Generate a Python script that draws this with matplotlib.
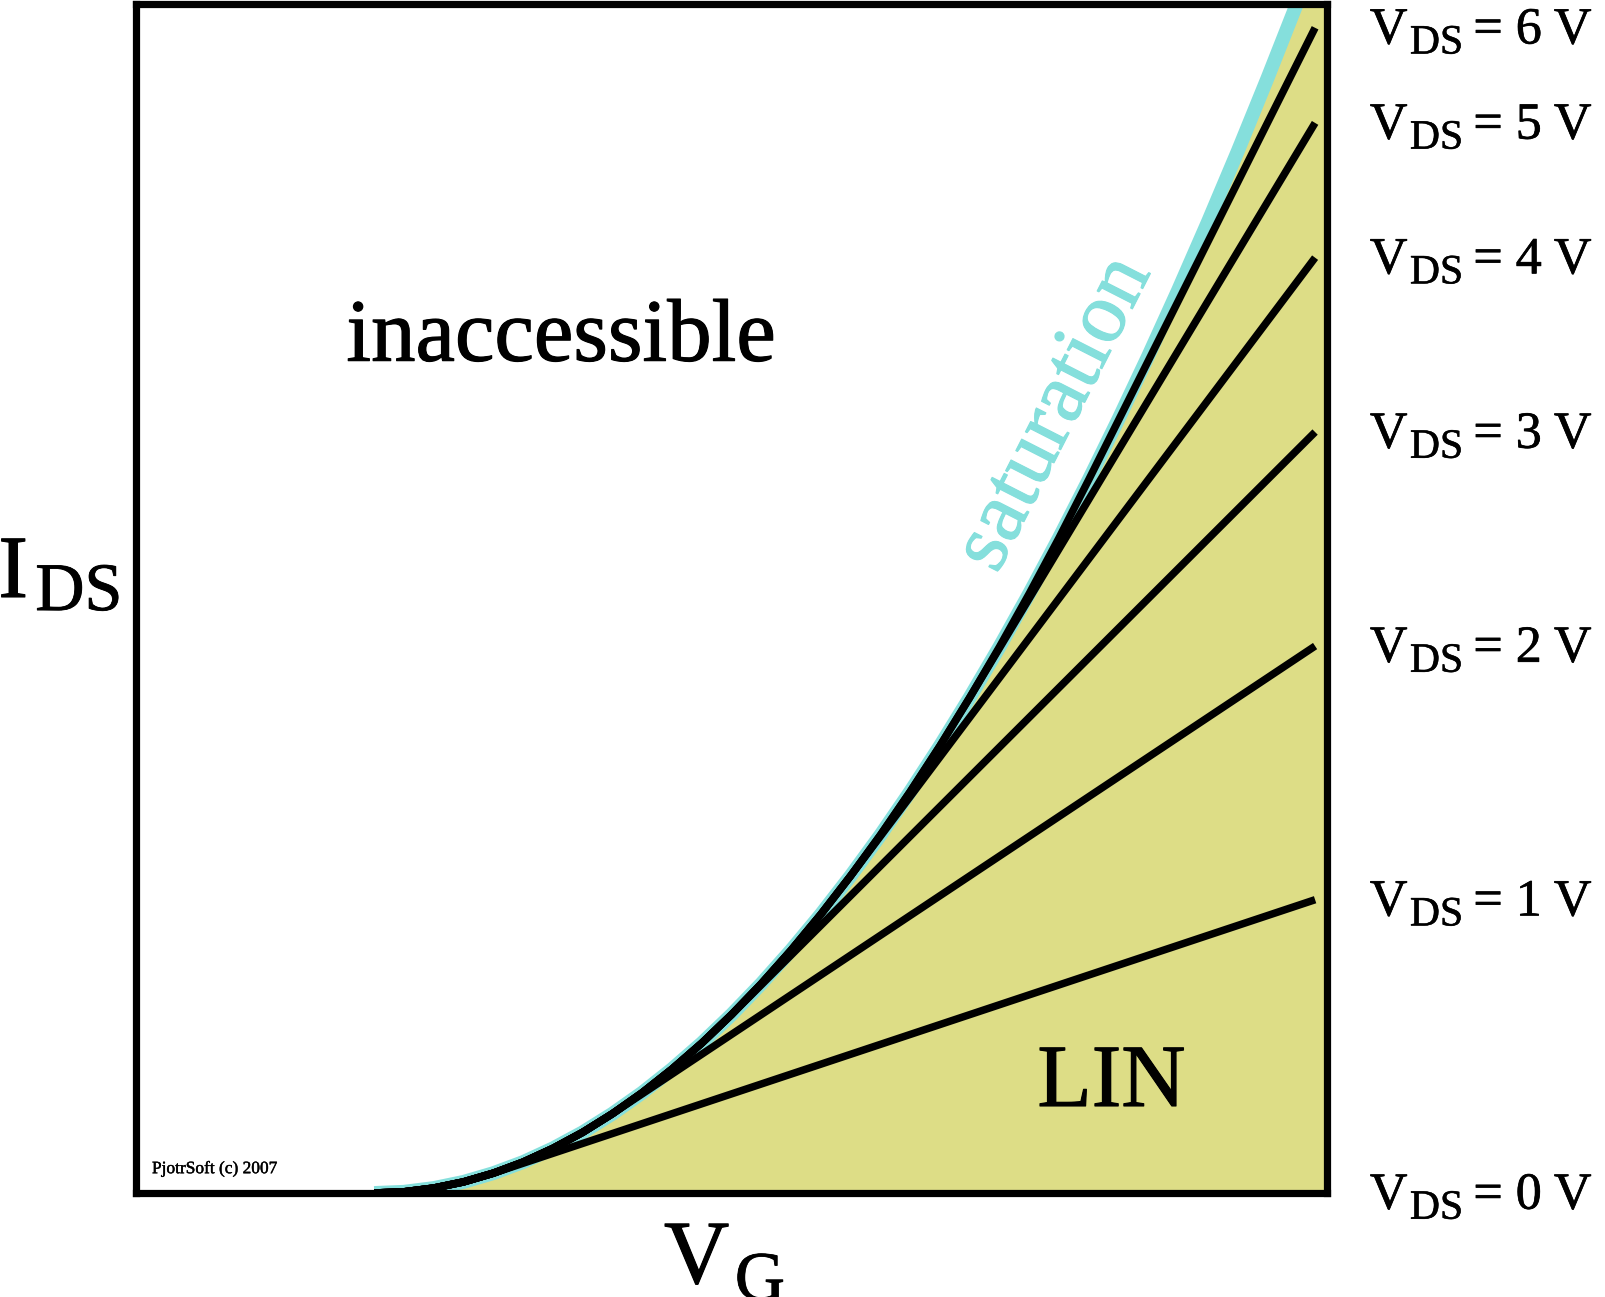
import matplotlib
matplotlib.use('Agg')
import matplotlib.pyplot as plt
import matplotlib.transforms as mtransforms
import matplotlib.patheffects as pe

plt.rcParams['font.family'] = ['Liberation Serif', 'DejaVu Serif']

# saturation curve (VG in V, IDS in arbitrary units)
vg_sat = [2.0, 2.25, 2.5, 2.75, 3.0, 3.25, 3.5, 3.75, 4.0, 4.25, 4.5, 4.75, 5.0, 5.25,
          5.5, 5.75, 6.0, 6.25, 6.5, 6.75, 7.0, 7.25, 7.5, 7.75, 8.0, 8.25, 8.5, 8.75,
          9.0, 9.25, 9.5, 9.75, 10.0]
ids_sat = [0, 0.06, 0.25, 0.56, 1.0, 1.56, 2.25, 3.06, 4.0, 5.06, 6.25, 7.56, 9.0, 10.56,
           12.25, 14.06, 16.0, 18.06, 20.25, 22.56, 25.0, 27.56, 30.25, 33.06, 36.0, 39.06,
           42.25, 45.56, 49.0, 52.56, 56.25, 60.06, 64.0]

# linear-region lines: knee on the saturation curve, then straight to the right end
vds = [1, 2, 3, 4, 5, 6]
vg_knee = [3.0, 4.0, 5.0, 6.0, 7.0, 8.0]
vg_end = 9.9
ids_end = [14.8, 27.6, 38.4, 47.2, 54.0, 58.8]

label_vds = [0, 1, 2, 3, 4, 5, 6]
label_ids = [0, 14.8, 27.6, 38.4, 47.2, 54.0, 58.8]

cyan = '#85dfdc'
yellow = '#dddd86'


def heavy(w, c='black'):
    return [pe.withStroke(linewidth=w, foreground=c)]


fig = plt.figure(figsize=(16.06, 12.97), dpi=100)
ax = fig.add_axes([136 / 1606, 1 - 1193 / 1297, 1191 / 1606, 1189 / 1297])
ax.set_xlim(0, 10)
ax.set_ylim(0, 60)
ax.set_xticks([])
ax.set_yticks([])
for s in ax.spines.values():
    s.set_linewidth(5.2)
    s.set_zorder(6)

ax.fill_between(vg_sat, 0, ids_sat, color=yellow, lw=0, zorder=1)
ax.plot(vg_sat, ids_sat, color=cyan, lw=10, zorder=2, solid_capstyle='butt')

for i, v in enumerate(vds):
    xs = [x for x in vg_sat if x <= vg_knee[i]]
    ys = ids_sat[:len(xs)]
    xs = xs + [vg_end]
    ys = ys + [ids_end[i]]
    ax.plot(xs, ys, color='black', lw=5.4, zorder=3, solid_capstyle='butt',
            solid_joinstyle='round')

ax.text(3.57, 42.0, 'inaccessible', fontsize=64, ha='center', va='baseline',
        path_effects=heavy(0.8))
ax.text(8.19, 4.39, 'LIN', fontsize=64, ha='center', va='baseline',
        path_effects=heavy(0.8))
ax.text(7.72, 39.3, 'saturation', fontsize=62, color=cyan, rotation=63,
        rotation_mode='anchor', ha='center', va='center', path_effects=heavy(0.8, cyan))
ax.text(0.134, 1.0, 'PjotrSoft (c) 2007', fontsize=12.5, ha='left', va='baseline',
        path_effects=heavy(0.3))


def off(x, y):
    return mtransforms.offset_copy(ax.transData, fig=fig, x=x, y=y, units='points')


# right-hand labels: V, subscript DS, then "= n V"
for v, y in zip(label_vds, label_ids):
    ax.text(10.36, y, 'V', fontsize=37.5, va='baseline', transform=off(0, -11.3),
            clip_on=False, path_effects=heavy(0.5))
    ax.text(10.36, y, 'DS', fontsize=30, va='baseline', transform=off(28.8, -18.5),
            clip_on=False, path_effects=heavy(0.4))
    ax.text(10.36, y, '= %d V' % v, fontsize=37.5, va='baseline', transform=off(74.5, -11.3),
            clip_on=False, path_effects=heavy(0.5))

# axis names
tr_i = mtransforms.offset_copy(fig.transFigure, fig=fig, x=26.6, y=-9.4, units='points')
fig.text(-1.6 / 1606, 1 - 597 / 1297, 'I', fontsize=64, va='baseline', path_effects=heavy(0.8))
fig.text(-1.6 / 1606, 1 - 597 / 1297, 'DS', fontsize=49, va='baseline', transform=tr_i,
         path_effects=heavy(0.6))
tr_g = mtransforms.offset_copy(fig.transFigure, fig=fig, x=51, y=-12, units='points')
fig.text(664 / 1606, 1 - 1283 / 1297, 'V', fontsize=65, va='baseline', path_effects=heavy(0.8))
fig.text(664 / 1606, 1 - 1283 / 1297, 'G', fontsize=50, va='baseline', transform=tr_g,
         path_effects=heavy(0.6))

fig.savefig('out.png', dpi=100)
